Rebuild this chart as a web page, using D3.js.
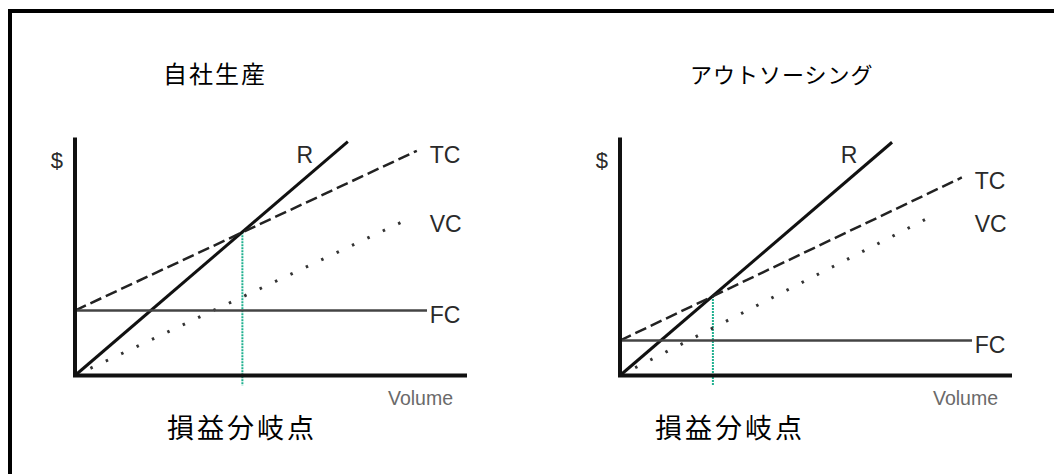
<!DOCTYPE html>
<html>
<head>
<meta charset="utf-8">
<script src="https://cdnjs.cloudflare.com/ajax/libs/d3/7.8.5/d3.min.js"></script>
<style>
  body { margin: 0; background: #fff; }
  svg { display: block; }
  .lbl { font-family: "Liberation Sans", Arial, sans-serif; fill: #2a2a2a; }
  .jp { font-family: "Noto Sans CJK JP", sans-serif; fill: #000; font-weight: 400; }
</style>
</head>
<body>
<div class="chart"></div>
<script>
// panel titles and captions
var titles = ["自社生産", "アウトソーシング"];
var caption = "損益分岐点";
var lineKeys = ["R", "TC", "VC", "FC"];

// each line: [start volume, start $, end volume, end $]
var inhouseLines = [
  [0, 0, 69.6, 98.3],
  [0, 27.3, 87.2, 94.4],
  [0, 0, 84.7, 65.5],
  [0, 27.3, 89.8, 27.3]
];
var outsourceLines = [
  [0, 0, 69.4, 98.0],
  [0, 14.7, 87.2, 83.2],
  [0, 0, 77.8, 65.5],
  [0, 14.7, 89.8, 14.7]
];
// break-even point [volume, $]
var breakEven = [[42.7, 60.2], [23.7, 33.4]];

var width = 1054, height = 474;
var panelW = 392, panelH = 238;

var svg = d3.select('.chart').append('svg')
  .attr('width', width)
  .attr('height', height);

// frame (top and left edges only, as in the picture)
svg.append('path')
  .attr('d', 'M10,' + height + 'V11H' + width)
  .attr('fill', 'none')
  .attr('stroke', '#000')
  .attr('stroke-width', 4);

var x = d3.scaleLinear().domain([0, 100]).range([0, panelW]);
var y = d3.scaleLinear().domain([0, 100]).range([panelH, 0]);

var styles = {
  R:  { dash: null, w: 3, c: '#111' },
  TC: { dash: '12,5', w: 2.5, c: '#222' },
  VC: { dash: '2.5,14.5', w: 3, c: '#333' },
  FC: { dash: null, w: 2.5, c: '#444' }
};

function drawPanel(i, lines, left, top, titleX, captionX) {
  var g = svg.append('g')
    .attr('transform', 'translate(' + left + ',' + top + ')');

  var data = lines.map(function(l, k) {
    return { key: lineKeys[k], p: [[l[0], l[1]], [l[2], l[3]]] };
  });

  var line = d3.line()
    .x(function(d) { return x(d[0]) })
    .y(function(d) { return y(d[1]) });

  // break-even marker
  var be = breakEven[i];
  g.append('line')
    .attr('x1', x(be[0])).attr('x2', x(be[0]))
    .attr('y1', y(be[1])).attr('y2', y(0) + 10)
    .attr('stroke', '#1fb08f')
    .attr('stroke-width', 2)
    .attr('stroke-dasharray', '2,1');

  g.selectAll('.cost')
    .data(data)
    .enter()
    .append('path')
      .attr('d', function(d) { return line(d.p) })
      .attr('fill', 'none')
      .attr('stroke', function(d) { return styles[d.key].c })
      .attr('stroke-width', function(d) { return styles[d.key].w })
      .attr('stroke-dasharray', function(d) { return styles[d.key].dash });

  // axes
  g.append('path')
    .attr('d', 'M' + x(0) + ',' + y(100) + 'V' + y(0) + 'H' + x(100))
    .attr('fill', 'none')
    .attr('stroke', '#111')
    .attr('stroke-width', 4);

  // line labels
  data.forEach(function(d) {
    var end = d.p[1];
    var t = g.append('text').attr('class', 'lbl')
      .style('font-size', '23px')
      .text(d.key);
    if (d.key == 'R') {
      t.attr('x', x(end[0]) - 43).attr('y', y(end[1]) + 21)
        .attr('text-anchor', 'middle');
    } else {
      t.attr('x', x(91) - 2).attr('y', y(end[1]) + 12);
    }
  });

  g.append('text').attr('class', 'lbl')
    .attr('x', -12).attr('y', 30)
    .attr('text-anchor', 'end')
    .style('font-size', '22px')
    .text('$');

  g.append('text').attr('class', 'lbl')
    .attr('x', x(100) - 14).attr('y', y(0) + 29)
    .attr('text-anchor', 'end')
    .style('font-size', '19.5px')
    .style('fill', '#6a6a6a')
    .text('Volume');

  svg.append('text').attr('class', 'jp')
    .attr('x', titleX).attr('y', 83)
    .style('font-size', i == 0 ? '24px' : '22px')
    .style('letter-spacing', i == 0 ? '2px' : '1px')
    .text(titles[i]);

  svg.append('text').attr('class', 'jp')
    .attr('x', captionX).attr('y', 438)
    .style('font-size', '27px')
    .style('letter-spacing', '3px')
    .text(caption);
}

drawPanel(0, inhouseLines, 75, 137.5, 163, 167);
drawPanel(1, outsourceLines, 620, 137.5, 690, 655);
</script>
</body>
</html>
